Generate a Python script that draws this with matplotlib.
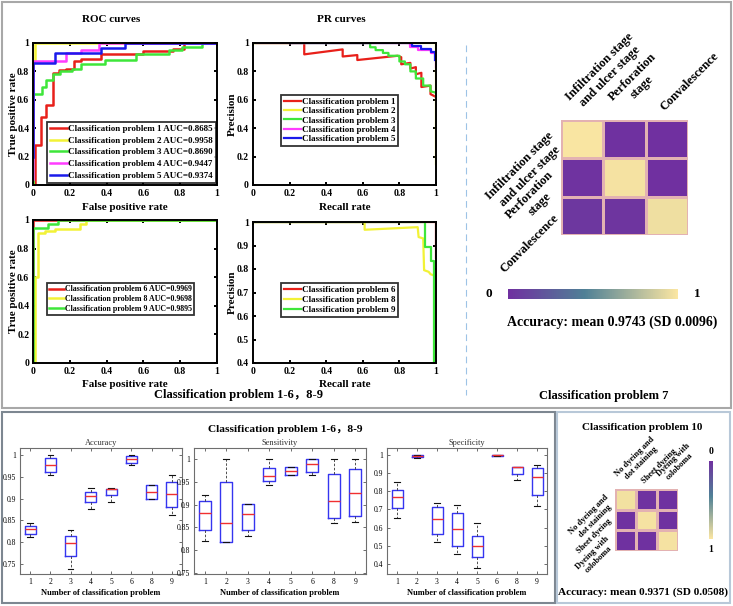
import matplotlib
matplotlib.use('Agg')
import matplotlib.pyplot as plt
import numpy as np
from matplotlib.colors import LinearSegmentedColormap
from matplotlib.patches import Rectangle
from matplotlib.lines import Line2D
from matplotlib.ticker import FuncFormatter
import matplotlib.cm as cm

plt.rcParams['font.family'] = ['Liberation Serif', 'Noto Sans CJK SC']
plt.rcParams['font.weight'] = 'bold'
plt.rcParams['axes.labelweight'] = 'bold'

# ---- ROC curves, problems 1-5 (step vertices) ----
roc1_fpr = [0.01, 0.04, 0.07, 0.11, 0.14, 0.18, 0.22, 0.26, 0.37, 0.60, 0.76, 0.82, 1.0]
roc1_tpr = [0.0, 0.28, 0.48, 0.56, 0.79, 0.81, 0.82, 0.87, 0.89, 0.92, 0.945, 0.96, 1.0]
roc2_fpr = [0.0, 0.01, 1.0]
roc2_tpr = [0.0, 0.87, 1.0]
roc3_fpr = [0.0, 0.045, 0.07, 0.11, 0.145, 0.21, 0.26, 0.39, 0.56, 0.74, 0.81, 0.92, 1.0]
roc3_tpr = [0.0, 0.64, 0.69, 0.74, 0.78, 0.80, 0.82, 0.85, 0.88, 0.92, 0.95, 0.97, 1.0]
roc4_fpr = [0.0, 0.18, 0.26, 0.36, 1.0]
roc4_tpr = [0.04, 0.87, 0.93, 0.95, 1.0]
roc5_fpr = [0.0, 0.12, 0.37, 0.50, 1.0]
roc5_tpr = [0.2, 0.86, 0.93, 0.965, 1.0]
auc_top = ['0.8685', '0.9958', '0.8690', '0.9447', '0.9374']

# ---- PR curves, problems 1-5 ----
pr1_rec = [0.0, 0.28, 0.28, 0.49, 0.49, 0.57, 0.57, 0.79, 0.81, 0.81, 0.86, 0.86, 0.89, 0.89, 0.92, 0.92, 0.97, 0.97, 1.0]
pr1_prec = [1.0, 1.0, 0.92, 0.955, 0.905, 0.915, 0.88, 0.91, 0.90, 0.85, 0.86, 0.82, 0.83, 0.78, 0.79, 0.69, 0.70, 0.64, 0.62]
pr2_rec = [0.0, 1.0, 1.0]
pr2_prec = [1.0, 1.0, 0.15]
pr3_rec = [0.0, 0.64, 0.64, 0.67, 0.67, 0.71, 0.71, 0.74, 0.74, 0.80, 0.80, 0.83, 0.83, 0.86, 0.86, 0.89, 0.89, 0.93, 0.93, 0.97, 0.97, 1.0]
pr3_prec = [1.0, 1.0, 0.97, 0.97, 0.95, 0.95, 0.93, 0.93, 0.91, 0.91, 0.87, 0.87, 0.85, 0.85, 0.80, 0.80, 0.75, 0.75, 0.70, 0.70, 0.66, 0.65]
pr4_rec = [0.02, 0.86, 0.86, 0.90, 0.90, 0.97, 0.97, 1.0, 1.0]
pr4_prec = [1.0, 1.0, 0.97, 0.97, 0.95, 0.95, 0.93, 0.93, 0.83]
pr5_rec = [0.2, 0.87, 0.87, 0.92, 0.92, 0.97, 0.97, 0.995, 0.995]
pr5_prec = [1.0, 1.0, 0.98, 0.98, 0.955, 0.955, 0.935, 0.935, 0.88]

# ---- ROC / PR curves, problems 6, 8, 9 ----
roc6_fpr = [0.0, 1.0]
roc6_tpr = [0.0, 1.0]
roc8_fpr = [0.01, 0.027, 0.064, 0.12, 0.255, 0.29, 1.0]
roc8_tpr = [0.0, 0.60, 0.91, 0.925, 0.935, 0.97, 1.0]
roc9_fpr = [0.0, 0.08, 0.136, 1.0]
roc9_tpr = [0.0, 0.946, 0.97, 1.0]
auc_bot = ['0.9969', '0.9698', '0.9895']

pr6_rec = [0.0, 1.0, 1.0]
pr6_prec = [1.0, 1.0, 0.845]
pr8_rec = [0.0, 0.61, 0.61, 0.90, 0.905, 0.93, 0.935, 0.96, 0.97, 0.99, 1.0, 1.0]
pr8_prec = [1.0, 1.0, 0.967, 0.978, 0.936, 0.93, 0.795, 0.788, 0.778, 0.772, 0.765, 0.4]
pr9_rec = [0.0, 0.94, 0.94, 0.97, 0.97, 0.99, 0.99]
pr9_prec = [1.0, 1.0, 0.895, 0.895, 0.835, 0.835, 0.35]

# ---- confusion matrices ----
cm7_labels = ['Infiltration stage\nand ulcer stage', 'Perforation\nstage', 'Convalescence']
cm7 = [[0.99, 0.01, 0.00], [0.02, 0.98, 0.00], [0.04, 0.03, 0.96]]
cm10_labels = ['No dyeing and\ndot staining', 'Sheet dyeing', 'Dyeing with\ncoloboma']
cm10 = [[0.97, 0.02, 0.01], [0.01, 0.98, 0.01], [0.01, 0.01, 0.98]]

# ---- box plot summaries (problems 1-6, 8, 9) ----
box_names = ['1', '2', '3', '4', '5', '6', '8', '9']
acc_whislo = [0.813, 0.955, 0.738, 0.877, 0.893, 0.976, 0.899, 0.862]
acc_q1 = [0.818, 0.961, 0.768, 0.892, 0.908, 0.982, 0.899, 0.880]
acc_med = [0.830, 0.977, 0.798, 0.907, 0.922, 0.991, 0.915, 0.910]
acc_q3 = [0.838, 0.993, 0.814, 0.916, 0.923, 0.997, 0.932, 0.938]
acc_whishi = [0.843, 0.999, 0.828, 0.924, 0.924, 1.000, 0.932, 0.955]

sen_whislo = [0.820, 0.818, 0.832, 0.943, 0.965, 0.965, 0.860, 0.863]
sen_q1 = [0.844, 0.818, 0.844, 0.952, 0.965, 0.971, 0.871, 0.876]
sen_med = [0.881, 0.859, 0.879, 0.963, 0.973, 0.988, 0.908, 0.926]
sen_q3 = [0.907, 0.949, 0.902, 0.981, 0.982, 1.000, 0.966, 0.978]
sen_whishi = [0.922, 1.000, 0.902, 1.000, 0.982, 1.000, 1.000, 1.000]

spe_whislo = [0.652, 0.985, 0.520, 0.455, 0.376, 0.993, 0.864, 0.720]
spe_q1 = [0.709, 0.991, 0.564, 0.498, 0.438, 0.994, 0.895, 0.779]
spe_med = [0.768, 0.995, 0.650, 0.591, 0.498, 0.997, 0.932, 0.876]
spe_q3 = [0.808, 0.999, 0.716, 0.683, 0.556, 0.999, 0.934, 0.928]
spe_whishi = [0.849, 1.000, 0.738, 0.727, 0.625, 1.000, 0.934, 0.945]

RED, YEL, GRN, MAG, BLU = '#e8201a', '#f2f236', '#3ee63a', '#ff3cff', '#1a1aeb'

W, H = 733, 606
fig = plt.figure(figsize=(W / 100, H / 100), dpi=100)


def px_axes(l, t, r, b):
    return fig.add_axes([l / W, 1 - b / H, (r - l) / W, (b - t) / H])


def fx(x):
    return x / W


def fy(y):
    return 1 - y / H


def style_curve_ax(ax, xlab, ylab, top, bottom, left, ylab_px, xlab_gap):
    for s in ax.spines.values():
        s.set_linewidth(1.4)
        s.set_color('black')
    ax.tick_params(direction='in', top=True, right=True, length=2.5, width=1.4,
                   labelsize=7, pad=3)
    ax.xaxis.set_major_formatter(FuncFormatter(lambda v, p: '%g' % round(v, 2)))
    ax.yaxis.set_major_formatter(FuncFormatter(lambda v, p: '%g' % round(v, 2)))
    ax.set_xlim(0, 1)
    ax.set_xticks(np.arange(0, 1.01, 0.2))
    ax.set_xlabel(xlab, fontsize=8)
    ax.set_ylabel(ylab, fontsize=8)
    ax.xaxis.set_label_coords(0.5, -xlab_gap / (bottom - top))
    ax.yaxis.set_label_coords((ylab_px - left) / 183.3, 0.5)


def legend(ax, center, fs, ls):
    lg = ax.legend(loc='center', bbox_to_anchor=center, fontsize=fs, frameon=True,
                   fancybox=False, handlelength=1.9, handletextpad=0.1,
                   borderpad=0.3, labelspacing=ls, borderaxespad=0)
    lg.get_frame().set_edgecolor('black')
    lg.get_frame().set_linewidth(1.3)


# ---- frames ----
fig.add_artist(Rectangle((fx(1.5), fy(408)), (731 - 1.5) / W, 406.5 / H, transform=fig.transFigure,
                         fill=False, edgecolor='#a8a8a8', linewidth=1.5))
fig.add_artist(Rectangle((fx(2), fy(603)), 553 / W, 191 / H, transform=fig.transFigure,
                         fill=False, edgecolor='#7d8791', linewidth=1.5))
fig.add_artist(Rectangle((fx(557), fy(603)), 173 / W, 191 / H, transform=fig.transFigure,
                         fill=False, edgecolor='#b8c8d8', linewidth=1.5))
fig.add_artist(Line2D([fx(466), fx(466)], [fy(45), fy(395)], transform=fig.transFigure,
                      color='#9dc3e6', linewidth=0.8, linestyle=(0, (6, 4))))

# ---- ROC top ----
ax = px_axes(33.3, 43, 216.7, 185)
rocs = [(roc1_fpr, roc1_tpr), (roc2_fpr, roc2_tpr), (roc3_fpr, roc3_tpr),
        (roc4_fpr, roc4_tpr), (roc5_fpr, roc5_tpr)]
for i, ((xv, yv), c) in enumerate(zip(rocs, [RED, YEL, GRN, MAG, BLU])):
    ax.plot(xv, yv, drawstyle='steps-pre', color=c, linewidth=1.8,
            label='Classification problem %d AUC=%s' % (i + 1, auc_top[i]))
style_curve_ax(ax, 'False positive rate', 'True positive rate', 43, 185, 33.3, 18, 18)
ax.set_ylim(0, 1)
ax.set_yticks(np.arange(0, 1.01, 0.2))
legend(ax, (0.535, 0.23), 6.5, 0.38)
fig.text(fx(111), fy(20), 'ROC curves', ha='center', va='center', fontsize=8)

# ---- PR top ----
ax = px_axes(253, 43, 436, 185)
prs = [(pr1_rec, pr1_prec), (pr2_rec, pr2_prec), (pr3_rec, pr3_prec),
       (pr4_rec, pr4_prec), (pr5_rec, pr5_prec)]
for i, ((xv, yv), c) in enumerate(zip(prs, [RED, YEL, GRN, MAG, BLU])):
    ax.plot(xv, yv, color=c, linewidth=1.6, label='Classification problem %d' % (i + 1))
style_curve_ax(ax, 'Recall rate', 'Precision', 43, 185, 253, 237, 18)
ax.set_ylim(0, 1)
ax.set_yticks(np.arange(0, 1.01, 0.2))
legend(ax, (0.475, 0.455), 6.5, 0.12)
fig.text(fx(341), fy(20), 'PR curves', ha='center', va='center', fontsize=8)

# ---- ROC bottom ----
ax = px_axes(33.3, 220, 216.7, 363)
rocs = [(roc6_fpr, roc6_tpr), (roc8_fpr, roc8_tpr), (roc9_fpr, roc9_tpr)]
for i, ((xv, yv), c, n) in enumerate(zip(rocs, [RED, YEL, GRN], [6, 8, 9])):
    ax.plot(xv, yv, drawstyle='steps-pre', color=c, linewidth=1.8,
            label='Classification problem %d AUC=%s' % (n, auc_bot[i]))
style_curve_ax(ax, 'False positive rate', 'True positive rate', 220, 363, 33.3, 18, 17)
ax.set_ylim(0, 1)
ax.set_yticks(np.arange(0, 1.01, 0.2))
legend(ax, (0.475, 0.447), 5.7, 0.22)

# ---- PR bottom ----
ax = px_axes(253, 222, 436, 363)
prs = [(pr6_rec, pr6_prec), (pr8_rec, pr8_prec), (pr9_rec, pr9_prec)]
for (xv, yv), c, n in zip(prs, [RED, YEL, GRN], [6, 8, 9]):
    ax.plot(xv, yv, color=c, linewidth=1.6, label='Classification problem %d' % n)
style_curve_ax(ax, 'Recall rate', 'Precision', 222, 363, 253, 237, 17)
ax.set_ylim(0.4, 1)
ax.set_yticks(np.arange(0.4, 1.01, 0.1))
legend(ax, (0.475, 0.447), 6.5, 0.15)

fig.text(fx(238), fy(395), 'Classification problem 1-6，8-9', ha='center', va='center', fontsize=9)
fig.text(fx(604), fy(396), 'Classification problem 7', ha='center', va='center', fontsize=9)

# ---- confusion matrices ----
cmap = LinearSegmentedColormap.from_list('pc', [(0, '#7030a0'), (0.45, '#4f8096'), (1, '#fbe6a2')])


def conf_matrix(ax, mat, labels, fs, xpad):
    ax.pcolormesh(np.array(mat), cmap=cmap, vmin=0, vmax=1,
                  edgecolors='#e3b2b2', linewidth=0.8)
    ax.set_xlim(0, 3)
    ax.set_ylim(3, 0)
    ax.xaxis.tick_top()
    ax.set_xticks([0.5, 1.5, 2.5])
    ax.set_yticks([0.5, 1.5, 2.5])
    ax.set_xticklabels(labels, rotation=45, ha='left', va='bottom',
                       rotation_mode='anchor', fontsize=fs, multialignment='center')
    ax.set_yticklabels(labels, rotation=45, ha='right', va='center',
                       rotation_mode='anchor', fontsize=fs, multialignment='center')
    ax.tick_params(axis='y', length=0, pad=3)
    ax.tick_params(axis='x', length=0, pad=xpad)
    for s in ax.spines.values():
        s.set_visible(False)


ax = px_axes(561, 120, 688, 235)
conf_matrix(ax, cm7, cm7_labels, 9, 5)
cax = px_axes(508, 289, 678, 299)
cb = fig.colorbar(cm.ScalarMappable(cmap=cmap), cax=cax, orientation='horizontal')
cb.outline.set_visible(False)
cb.set_ticks([])
fig.text(fx(489), fy(294), '0', ha='center', va='center', fontsize=9.5)
fig.text(fx(697), fy(294), '1', ha='center', va='center', fontsize=9.5)
fig.text(fx(612), fy(322), 'Accuracy: mean 0.9743 (SD 0.0096)', ha='center', va='center', fontsize=10)

ax = px_axes(615, 489, 678, 551)
conf_matrix(ax, cm10, cm10_labels, 6, 3)
cax = px_axes(709, 461, 713, 539)
cb = fig.colorbar(cm.ScalarMappable(cmap=cmap), cax=cax, orientation='vertical')
cb.outline.set_visible(False)
cb.set_ticks([])
cax.invert_yaxis()
fig.text(fx(711), fy(452), '0', ha='center', va='center', fontsize=7)
fig.text(fx(711), fy(550), '1', ha='center', va='center', fontsize=7)
fig.text(fx(642), fy(428), 'Classification problem 10', ha='center', va='center', fontsize=8)
fig.text(fx(643), fy(592), 'Accuracy: mean 0.9371 (SD 0.0508)', ha='center', va='center', fontsize=8.1)

# ---- box plots ----
fig.text(fx(285), fy(430), 'Classification problem 1-6，8-9', ha='center', va='center', fontsize=8.2)


def box_panel(rect, title, lo, q1, med, q3, hi, ylim, yticks):
    ax = px_axes(*rect)
    stats = [dict(whislo=a, q1=b, med=c, q3=d, whishi=e, fliers=[])
             for a, b, c, d, e in zip(lo, q1, med, q3, hi)]
    ax.bxp(stats, positions=range(1, len(stats) + 1), widths=0.55, capwidths=0.27,
           boxprops=dict(color='#3535f0', linewidth=1.0),
           medianprops=dict(color='#f03030', linewidth=1.0),
           whiskerprops=dict(color='#333333', linewidth=0.6, linestyle=(0, (3, 2))),
           capprops=dict(color='#111111', linewidth=0.8))
    ax.set_xlim(0.5, len(stats) + 0.5)
    ax.set_xticks(range(1, len(stats) + 1))
    ax.set_xticklabels(box_names)
    ax.set_ylim(*ylim)
    ax.set_yticks(yticks)
    ax.yaxis.set_major_formatter(FuncFormatter(lambda v, p: '%g' % round(v, 2)))
    for s in ax.spines.values():
        s.set_color('#6e6e6e')
        s.set_linewidth(0.8)
    ax.tick_params(direction='in', top=True, right=True, length=2.5, width=0.6,
                   labelsize=5.5, color='#555555', pad=3)
    for lab in ax.get_xticklabels() + ax.get_yticklabels():
        lab.set_fontweight('normal')
    ax.set_title(title, fontsize=6, fontweight='normal', color='#333333', pad=2)
    ax.set_xlabel('Number of classification problem', fontsize=6, labelpad=2)
    return ax


box_panel((20, 448, 182, 574), 'Accuracy', acc_whislo, acc_q1, acc_med, acc_q3, acc_whishi,
          (0.727, 1.016), [0.75, 0.8, 0.85, 0.9, 0.95, 1.0])
box_panel((194, 448, 366, 574), 'Sensitivity', sen_whislo, sen_q1, sen_med, sen_q3, sen_whishi,
          (0.748, 1.024), [0.75, 0.8, 0.85, 0.9, 0.95, 1.0])
box_panel((387, 448, 547, 574), 'Specificity', spe_whislo, spe_q1, spe_med, spe_q3, spe_whishi,
          (0.345, 1.038), [0.4, 0.5, 0.6, 0.7, 0.8, 0.9, 1.0])

fig.savefig('out.png', dpi=100)
